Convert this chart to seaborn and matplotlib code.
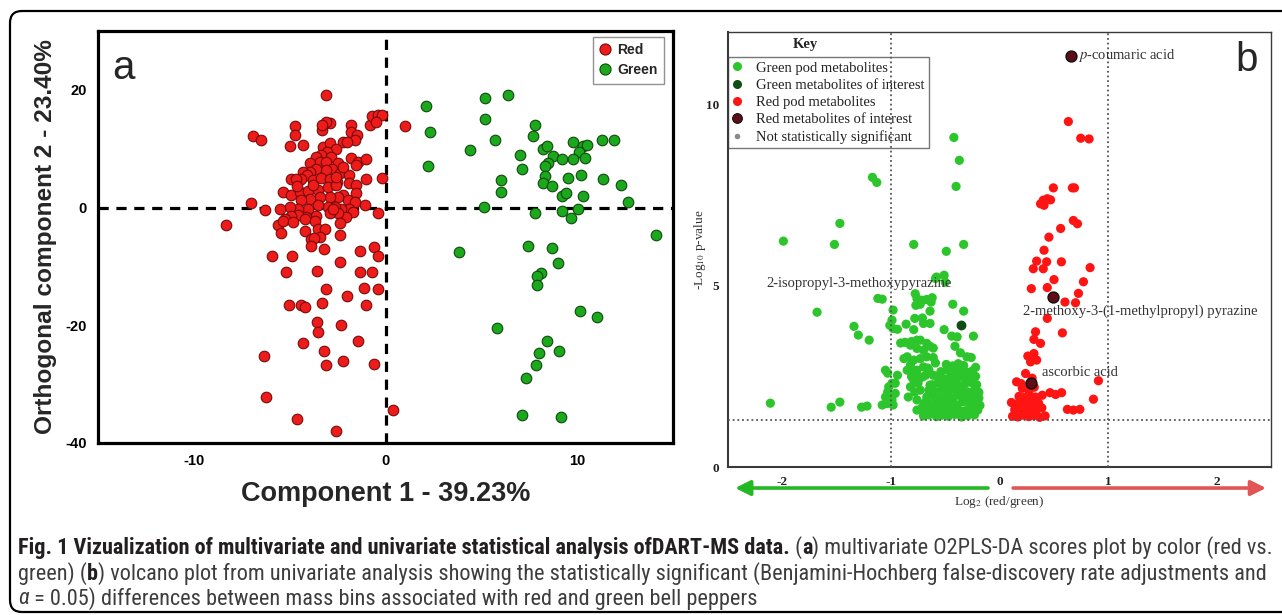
import numpy as np
import pandas as pd
import matplotlib
matplotlib.use("Agg")
import matplotlib.pyplot as plt
import seaborn as sns
from matplotlib.lines import Line2D
from matplotlib.patches import FancyBboxPatch
from matplotlib.transforms import IdentityTransform
from matplotlib import font_manager as fm
from matplotlib.font_manager import FontProperties

# ---------------- data: panel a (O2PLS-DA scores) ----------------
a_red_pts = [
    (-3.1, 19.1), (-6.9, 12.1), (-6.5, 11.4), (-4.7, 13.8), (-4.7, 12.4), (-5.0, 10.4), (-4.3, 10.6),
    (-3.3, 13.1), (-2.9, 14.3), (-3.1, 14.6), (-3.3, 14.1), (-1.8, 14.1), (-1.8, 12.9), (-1.5, 12.3),
    (-1.6, 11.4), (-2.2, 11.2), (-2.0, 11.2), (-0.8, 14.0), (-0.7, 15.5), (-0.4, 15.7), (-0.2, 15.8),
    (-0.5, 14.6), (1.0, 13.8),
    (-3.27, 10.3), (-2.92, 10.9), (-2.60, 9.9), (-3.06, 9.5), (-3.35, 9.0), (-2.83, 8.6), (-3.61, 8.6),
    (-3.92, 7.6), (-3.44, 7.8), (-3.13, 7.7), (-2.48, 7.5), (-2.78, 6.6), (-2.40, 5.8), (-3.13, 6.3),
    (-3.61, 6.6), (-3.96, 6.1), (-4.31, 6.1), (-4.10, 5.5), (-4.39, 4.9), (-4.95, 4.8), (-4.65, 4.9),
    (-3.78, 4.6), (-3.35, 5.1), (-2.92, 4.9), (-2.54, 4.4), (-1.88, 5.5), (-1.88, 4.1), (-1.79, 8.5),
    (-1.44, 7.8), (-1.01, 8.3), (-1.56, 7.2), (-1.01, 4.8), (-0.19, 5.1),
    (-5.35, 2.7), (-4.91, 2.1), (-4.48, 2.7), (-4.05, 2.8), (-3.52, 3.0), (-3.00, 3.5), (-2.57, 3.8),
    (-2.22, 2.1), (-1.53, 3.8), (-1.56, 2.4), (-1.96, 1.25), (-2.48, 1.8), (-2.92, 1.8), (-3.44, 1.8),
    (-3.96, 1.5), (-4.39, 1.25), (-2.2, 6.9), (-2.6, 5.2), (-3.8, 3.8), (-4.6, 3.6),
    (-1.09, 0.4), (-1.61, 0.97), (-1.88, -0.17), (-2.31, -0.17), (-2.66, 0.1), (-3.0, 0.1), (-3.52, 0.4),
    (-4.05, -0.17), (-4.57, -0.17), (-5.0, 0.1), (-5.52, -0.17), (-6.3, -0.46), (-7.0, 0.85),
    (-0.40, -0.85), (-1.70, -0.74), (-2.05, -1.6), (-2.48, -1.0), (-2.92, -1.0), (-3.61, -1.4),
    (-4.13, -1.6), (-4.57, -1.3), (-4.91, -1.4), (-5.26, -1.9), (-5.61, -2.9), (-5.35, -2.2),
    (-4.83, -2.4), (-4.22, -1.9), (-3.70, -2.2), (-2.40, -2.6), (-5.43, -4.4), (-4.22, -4.0),
    (-3.52, -3.6), (-3.18, -3.7), (-2.40, -4.7), (-3.44, -5.0), (-3.87, -5.3), (-2.76, -0.2),
    (-8.3, -2.9), (-5.9, -8.2), (-4.9, -8.2), (-5.2, -10.9), (-3.6, -10.7), (-3.75, -5.1), (-3.9, -6.5),
    (-3.2, -7.1), (-2.4, -9.2), (-1.35, -7.3), (-0.6, -6.7), (-0.4, -8.2), (-1.35, -10.9), (-0.7, -10.9),
    (-3.1, -13.8), (-1.1, -13.6), (-0.4, -13.8), (-2.0, -15.1),
    (-5.05, -16.5), (-4.4, -16.5), (-4.2, -16.9), (-3.3, -16.2), (-1.0, -16.5), (-3.6, -19.4),
    (-3.5, -21.1), (-2.3, -19.9), (-4.3, -23.0), (-3.2, -24.3), (-1.45, -22.6), (-6.35, -25.2),
    (-3.1, -26.7), (-2.2, -26.0), (-0.6, -26.6), (-6.25, -32.2), (-4.6, -35.9), (-2.6, -38.0), (0.4, -34.4),
]
a_green_pts = [
    (2.1, 17.2), (2.3, 12.8), (2.2, 7.1), (5.2, 18.6), (5.2, 15.0), (6.4, 19.1), (4.4, 9.7), (5.7, 11.4),
    (7.8, 14.1), (7.7, 12.1), (7.0, 9.0), (7.1, 6.6), (8.2, 10.0), (8.4, 10.4), (8.75, 8.7), (9.2, 8.2),
    (8.5, 7.5), (8.3, 7.1), (9.8, 11.2), (10.3, 10.4), (10.5, 10.7), (10.1, 9.4), (10.4, 8.5), (9.8, 8.2),
    (11.3, 11.4), (11.9, 11.4), (6.0, 4.6), (6.0, 2.7), (8.3, 5.3), (8.2, 4.1), (8.7, 3.7), (9.5, 5.1),
    (10.2, 5.6), (11.35, 4.9), (12.3, 3.9), (9.2, 2.0), (9.4, 2.4), (10.3, 2.0), (12.65, 1.0), (5.15, 0.1),
    (7.8, -0.9), (9.2, -0.5), (10.05, -0.3), (9.7, -1.7), (14.1, -4.6), (3.85, -7.5), (7.45, -6.5),
    (8.7, -6.8), (9.0, -9.4), (8.1, -11.2), (7.9, -11.7), (7.9, -13.1), (10.15, -17.5), (11.05, -18.6),
    (5.8, -20.4), (8.45, -22.6), (9.05, -24.3), (8.0, -24.7), (7.85, -26.7), (7.35, -28.9), (7.1, -35.2),
    (9.15, -35.6),
]
a_groups = ["Red", "Green"]
a_xticks = [-10, 0, 10]
a_yticks = [-40, -20, 0, 20]

# ---------------- data: panel b (volcano plot) ----------------
b_green_pts = [
    (-0.42, 9.09), (-0.37, 8.46), (-0.40, 7.74), (-1.17, 7.99), (-1.13, 7.85), (-1.47, 6.72), (-1.99, 6.23),
    (-1.52, 6.14), (-0.79, 6.14), (-0.49, 5.95), (-0.33, 6.14), (-0.59, 5.2), (-0.51, 5.29), (-0.50, 5.1),
    (-0.58, 5.24), (-1.12, 4.65), (-1.08, 4.63), (-1.68, 4.27), (-1.34, 3.88), (-1.30, 3.64), (-1.20, 3.5),
    (-2.11, 1.76), (-1.55, 1.65), (-1.47, 1.79), (-1.27, 1.65), (-1.22, 1.68), (-1.08, 1.71), (-1.03, 1.76),
    (-0.43, 4.49), (-0.33, 4.30), (-0.24, 3.61),
    (-0.776, 4.78), (-0.76, 4.65), (-0.71, 4.60), (-0.67, 4.62), (-0.62, 4.67), (-0.77, 4.46), (-0.73, 4.49),
    (-0.63, 4.55), (-0.98, 4.33), (-0.64, 4.30), (-0.78, 4.10), (-0.71, 4.11), (-0.70, 3.96), (-0.99, 4.05),
    (-0.98, 3.82), (-0.86, 3.94), (-0.79, 3.79), (-0.64, 3.96), (-0.51, 3.79), (-0.44, 3.61), (-0.39, 3.59),
    (-1.01, 3.91), (-0.94, 3.80),
    (-0.81, 3.46), (-0.73, 3.50), (-0.67, 3.41), (-0.76, 3.27), (-0.70, 3.22), (-0.64, 3.33), (-0.41, 3.33),
    (-0.36, 3.15), (-0.30, 3.04), (-0.26, 3.02), (-0.88, 2.99), (-0.85, 3.04), (-0.79, 2.95), (-0.73, 2.99),
    (-0.67, 3.04), (-0.61, 3.02), (-0.22, 2.75), (-0.91, 3.42), (-0.87, 3.44), (-0.82, 3.36), (-0.76, 3.50),
    (-0.61, 3.28), (-0.59, 2.87), (-0.85, 2.67), (-0.76, 2.67), (-0.66, 2.73), (-0.79, 2.40), (-0.71, 2.48),
    (-0.61, 2.53), (-0.82, 2.81), (-0.70, 2.76), (-0.78, 2.63), (-0.65, 2.67), (-0.81, 2.49), (-0.73, 2.47),
    (-0.68, 2.53), (-0.82, 2.21), (-0.75, 2.31), (-0.78, 2.07), (-0.73, 2.12), (-0.64, 2.26), (-0.84, 1.93),
    (-0.76, 1.85), (-0.71, 1.65), (-0.76, 1.57), (-0.66, 1.52), (-0.61, 1.65),
    (-1.05, 2.67), (-1.03, 2.59), (-0.94, 2.53), (-0.96, 2.31), (-1.03, 2.07), (-1.05, 1.93), (-1.02, 2.21),
    (-0.99, 2.31), (-0.96, 2.03), (-0.99, 1.85), (-1.04, 1.75), (-0.98, 1.71),
    (-0.70, 1.41), (-0.65, 1.44), (-0.58, 1.39), (-0.53, 1.43), (-0.47, 1.40), (-0.41, 1.45), (-0.35, 1.38),
    (-0.29, 1.42), (-0.23, 1.44), (-0.73, 1.58), (-0.67, 1.62), (-0.61, 1.56), (-0.55, 1.60), (-0.49, 1.57),
    (-0.44, 1.63), (-0.38, 1.59), (-0.32, 1.55), (-0.26, 1.61), (-0.20, 1.57), (-0.69, 1.77), (-0.64, 1.73),
    (-0.58, 1.79), (-0.52, 1.74), (-0.46, 1.78), (-0.40, 1.72), (-0.34, 1.80), (-0.28, 1.75), (-0.22, 1.79),
    (-0.18, 1.70), (-0.67, 1.93), (-0.61, 1.96), (-0.55, 1.90), (-0.49, 1.95), (-0.43, 1.91), (-0.37, 1.97),
    (-0.31, 1.92), (-0.25, 1.94), (-0.19, 1.90), (-0.65, 2.12), (-0.59, 2.08), (-0.53, 2.13), (-0.47, 2.09),
    (-0.41, 2.14), (-0.35, 2.10), (-0.29, 2.07), (-0.23, 2.13), (-0.19, 2.06), (-0.62, 2.27), (-0.56, 2.31),
    (-0.50, 2.26), (-0.44, 2.30), (-0.38, 2.25), (-0.32, 2.29), (-0.26, 2.33), (-0.21, 2.27), (-0.57, 2.47),
    (-0.51, 2.43), (-0.45, 2.48), (-0.39, 2.44), (-0.33, 2.49), (-0.27, 2.45), (-0.22, 2.50), (-0.54, 2.63),
    (-0.48, 2.67), (-0.42, 2.62), (-0.36, 2.66), (-0.30, 2.61), (-0.25, 2.65), (-0.49, 2.83), (-0.43, 2.79),
    (-0.38, 2.85), (-0.33, 2.80),
]
b_red_pts = [
    (0.634, 9.53), (0.748, 9.07), (0.825, 9.05), (0.496, 7.70), (0.671, 7.70), (0.69, 7.70), (0.403, 7.36),
    (0.44, 7.40), (0.47, 7.37), (0.378, 7.26), (0.41, 7.22), (0.563, 6.58), (0.68, 6.80), (0.718, 6.71),
    (0.455, 6.34), (0.41, 5.98), (0.342, 5.68), (0.434, 5.66), (0.311, 5.47), (0.403, 5.47), (0.57, 5.66),
    (0.834, 5.50), (0.502, 5.17), (0.773, 5.11), (0.293, 4.92), (0.44, 4.95), (0.727, 4.79), (0.603, 4.55),
    (0.70, 4.53), (0.44, 4.10), (0.579, 3.70), (0.332, 3.73), (0.317, 3.52), (0.378, 3.41), (0.261, 3.06),
    (0.317, 3.13), (0.286, 2.90), (0.342, 2.95), (0.24, 2.58), (0.157, 2.35), (0.21, 2.17), (0.911, 2.38),
    (0.394, 1.98), (0.465, 2.05), (0.517, 2.0), (0.572, 2.05), (0.865, 1.87), (0.625, 1.59), (0.68, 1.57),
    (0.74, 1.59),
    (0.12, 1.40), (0.17, 1.38), (0.22, 1.43), (0.27, 1.39), (0.32, 1.42), (0.37, 1.37), (0.42, 1.41),
    (0.14, 1.58), (0.19, 1.62), (0.24, 1.56), (0.29, 1.60), (0.34, 1.57), (0.39, 1.63), (0.11, 1.78),
    (0.16, 1.74), (0.21, 1.79), (0.26, 1.75), (0.31, 1.80), (0.36, 1.76), (0.18, 1.95), (0.23, 1.92),
    (0.28, 1.97), (0.33, 1.93), (0.27, 2.12), (0.32, 2.20), (0.20, 2.30), (0.30, 2.45),
]
b_green_interest = [(-0.35, 3.91)]
b_red_interest = [(0.66, 11.35), (0.49, 4.69), (0.29, 2.31)]
b_labels = ["$\\it{p}$-coumaric acid", "2-isopropyl-3-methoxypyrazine",
            "2-methoxy-3-(1-methylpropyl) pyrazine", "ascorbic acid"]
b_label_pos = [(0.72, 11.35, "left"), (-1.29, 5.05, "center"), (0.22, 4.30, "left"), (0.39, 2.62, "left")]
b_key_labels = ["Green pod metabolites", "Green metabolites of interest", "Red pod metabolites",
                "Red metabolites of interest", "Not statistically significant"]
b_xticks = [-2, -1, 0, 1, 2]
b_yticks = [0, 5, 10]
fc_cut = [-1, 1]
p_cut = 1.30

caption_lines = [
    [("Fig. 1 Vizualization of multivariate and univariate statistical analysis ofDART-MS data.", "bold", "normal"),
     (" (", "normal", "normal"), ("a", "bold", "normal"),
     (") multivariate O2PLS-DA scores plot by color (red vs.", "normal", "normal")],
    [("green) (", "normal", "normal"), ("b", "bold", "normal"),
     (") volcano plot from univariate analysis showing the statistically significant (Benjamini-Hochberg false-discovery rate adjustments and", "normal", "normal")],
    [("α", "normal", "italic"),
     (" = 0.05) differences between mass bins associated with red and green bell peppers", "normal", "normal")],
]

# ---------------- styling ----------------
sns.set_style("white")
SANS = "Liberation Sans"
SERIF = "Liberation Serif"
plt.rcParams["font.family"] = [SANS, "DejaVu Sans"]
plt.rcParams["mathtext.fontset"] = "stix"
plt.rcParams["axes.unicode_minus"] = False
avail = {f.name for f in fm.fontManager.ttflist}
cap_font = SANS
for cand in ["Liberation Sans Narrow", "Roboto Condensed", "Open Sans Condensed", "Roboto"]:
    if cand in avail:
        cap_font = cand
        break

W, H = 1282, 615
fig = plt.figure(figsize=(W / 100, H / 100), dpi=100)
fig.patch.set_facecolor("white")

# frame around whole figure
border = FancyBboxPatch((10, 3), 1300, 601, boxstyle="round,pad=0,rounding_size=12",
                        transform=IdentityTransform(), fill=False, edgecolor="black", linewidth=1.6)
fig.add_artist(border)

# ---------------- panel a ----------------
ax1 = fig.add_axes([98 / W, 1 - 443 / H, 575 / W, 412 / H])
df_a = pd.DataFrame({
    "comp1": [p[0] for p in a_red_pts] + [p[0] for p in a_green_pts],
    "orth2": [p[1] for p in a_red_pts] + [p[1] for p in a_green_pts],
    "group": [a_groups[0]] * len(a_red_pts) + [a_groups[1]] * len(a_green_pts),
})
fills_a = {"Red": "#ee1b1b", "Green": "#1ca81c"}
edges_a = {"Red": "#7a0a0a", "Green": "#0c4a0c"}
ax1.axvline(0, color="black", lw=2.3, ls=(0, (3.2, 2.4)), zorder=1)
ax1.axhline(0, color="black", lw=2.3, ls=(0, (3.2, 2.4)), zorder=1)
for g in a_groups:
    sns.scatterplot(data=df_a[df_a["group"] == g], x="comp1", y="orth2", color=fills_a[g],
                    edgecolor=edges_a[g], linewidth=0.8, s=58, ax=ax1, legend=False, zorder=3)
ax1.set_xlim(-15, 15)
ax1.set_ylim(-40, 30)
ax1.set_xticks(a_xticks)
ax1.set_yticks(a_yticks)
for sp in ax1.spines.values():
    sp.set_linewidth(2.3)
    sp.set_color("black")
ax1.tick_params(direction="out", length=5, width=2.0, pad=3, labelsize=10.5, colors="black")
for lab in ax1.get_xticklabels() + ax1.get_yticklabels():
    lab.set_fontweight("bold")
ax1.set_xlabel("Component 1 - 39.23%", fontsize=19.5, fontweight="bold")
ax1.set_ylabel("Orthogonal component 2 - 23.40%", fontsize=17.6, fontweight="bold")
ax1.xaxis.set_label_coords(0.5, -0.092)
ax1.yaxis.set_label_coords(-0.072, 0.5)
ax1.text(0.024, 0.91, "a", transform=ax1.transAxes, fontsize=29, ha="left", va="center")
h_a = [Line2D([], [], ls="none", marker="o", markersize=8, markerfacecolor=fills_a[g],
              markeredgecolor=edges_a[g], markeredgewidth=0.8) for g in a_groups]
leg_a = ax1.legend(h_a, a_groups, loc="upper right", bbox_to_anchor=(0.984, 0.986), frameon=True,
                   fancybox=False, edgecolor="#777777", prop={"weight": "bold", "size": 10},
                   handlelength=0.8, handletextpad=0.5, borderpad=0.45, labelspacing=0.45,
                   borderaxespad=0)
leg_a.get_frame().set_linewidth(1.0)

# ---------------- panel b ----------------
ax2 = fig.add_axes([728 / W, 1 - 467 / H, 543 / W, 435 / H])
df_b = pd.DataFrame({
    "lfc": [p[0] for p in b_green_pts] + [p[0] for p in b_red_pts],
    "nlp": [p[1] for p in b_green_pts] + [p[1] for p in b_red_pts],
    "kind": ["Green"] * len(b_green_pts) + ["Red"] * len(b_red_pts),
})
GREEN_B, RED_B, DKG, DKR = "#2cc62c", "#ff1414", "#0f4d12", "#5e0d16"
for c in fc_cut:
    ax2.axvline(c, color="#555555", lw=1.3, ls=(0, (1, 1.6)), zorder=6)
ax2.axhline(p_cut, color="#555555", lw=1.3, ls=(0, (1, 1.6)), zorder=6)
sns.scatterplot(data=df_b, x="lfc", y="nlp", hue="kind", palette={"Green": GREEN_B, "Red": RED_B},
                s=44, linewidth=0, ax=ax2, legend=False, zorder=3)
dfg = pd.DataFrame({"lfc": [p[0] for p in b_green_interest], "nlp": [p[1] for p in b_green_interest]})
sns.scatterplot(data=dfg, x="lfc", y="nlp", color=DKG, s=50, linewidth=0, ax=ax2, legend=False, zorder=4)
dfr = pd.DataFrame({"lfc": [p[0] for p in b_red_interest], "nlp": [p[1] for p in b_red_interest]})
sns.scatterplot(data=dfr, x="lfc", y="nlp", color=DKR, edgecolor="#111111", linewidth=1.0, s=62,
                ax=ax2, legend=False, zorder=4)
for lab, (lx, ly, ha) in zip(b_labels, b_label_pos):
    ax2.text(lx, ly, lab, fontsize=10.5, family=SERIF, color="#333333", ha=ha, va="center", zorder=7)
ax2.set_xlim(-2.5, 2.5)
ax2.set_ylim(0, 12)
ax2.set_xticks(b_xticks)
ax2.set_yticks(b_yticks)
for name, sp in ax2.spines.items():
    sp.set_color("#3a3a3a")
    sp.set_linewidth(1.5 if name in ("left", "bottom") else 1.0)
ax2.tick_params(direction="out", length=4, width=1.3, pad=2.5, labelsize=9.5, colors="#222222")
for lab in ax2.get_xticklabels() + ax2.get_yticklabels():
    lab.set_fontweight("bold")
    lab.set_fontfamily(SERIF)
ax2.set_xlabel("Log$_2$ (red/green)", fontsize=9.5, family=SERIF, color="#333333")
ax2.set_ylabel("-Log$_{10}$ p-value", fontsize=9.5, family=SERIF, color="#333333")
ax2.xaxis.set_label_coords(0.5, -0.062)
ax2.yaxis.set_label_coords(-0.037, 0.5)
ax2.text(0.956, 0.936, "b", transform=ax2.transAxes, fontsize=29, ha="center", va="center")
ax2.text(0.142, 0.972, "Key", transform=ax2.transAxes, fontsize=10.5, family=SERIF,
         fontweight="bold", ha="center", va="center", color="#222222")
h_b = [
    Line2D([], [], ls="none", marker="o", markersize=6.5, markerfacecolor=GREEN_B, markeredgewidth=0),
    Line2D([], [], ls="none", marker="o", markersize=6.5, markerfacecolor=DKG, markeredgewidth=0),
    Line2D([], [], ls="none", marker="o", markersize=6.5, markerfacecolor=RED_B, markeredgewidth=0),
    Line2D([], [], ls="none", marker="o", markersize=7, markerfacecolor=DKR, markeredgecolor="#111111",
           markeredgewidth=0.8),
    Line2D([], [], ls="none", marker="o", markersize=4, markerfacecolor="#8a8a8a", markeredgewidth=0),
]
leg_b = ax2.legend(h_b, b_key_labels, loc="upper left", bbox_to_anchor=(0.0, 0.9425), frameon=True,
                   fancybox=False, edgecolor="#555555", prop={"family": SERIF, "size": 10.5},
                   handlelength=0.6, handletextpad=1.0, borderpad=0.3, labelspacing=0.27,
                   borderaxespad=0)
leg_b.get_frame().set_linewidth(1.0)
leg_b.set_zorder(2)
for t in leg_b.get_texts():
    t.set_color("#222222")

arrow_y = -0.58
ax2.annotate("", xy=(-2.46, arrow_y), xytext=(-0.08, arrow_y), xycoords="data",
             annotation_clip=False,
             arrowprops=dict(arrowstyle="-|>,head_length=0.9,head_width=0.45", color="#25b825", lw=2.6))
ax2.annotate("", xy=(2.48, arrow_y), xytext=(0.10, arrow_y), xycoords="data",
             annotation_clip=False,
             arrowprops=dict(arrowstyle="-|>,head_length=0.9,head_width=0.45", color="#e25555", lw=2.6))

# ---------------- caption ----------------
fig.canvas.draw()
renderer = fig.canvas.get_renderer()


def piece_width(txt, size, weight, style):
    fp = FontProperties(family=cap_font, size=size, weight=weight, style=style)
    w_full, _, _ = renderer.get_text_width_height_descent("|" + txt + "|", fp, ismath=False)
    w_bars, _, _ = renderer.get_text_width_height_descent("||", fp, ismath=False)
    return w_full - w_bars


base = 12.0
w1 = sum(piece_width(t, base, w, s) for t, w, s in caption_lines[0])
cap_size = base * (1272 - 18) / w1
line_y = [548, 574, 599]
for parts, yl in zip(caption_lines, line_y):
    x = 18.0
    for txt, weight, style in parts:
        col = "#231f20" if weight == "bold" else "#3d3d3f"
        fig.text(x, H - yl, txt, transform=IdentityTransform(), fontsize=cap_size, fontweight=weight,
                 fontstyle=style, family=cap_font, color=col, ha="left", va="center")
        x += piece_width(txt, cap_size, weight, style)

fig.savefig("out.png", dpi=100, facecolor="white")
